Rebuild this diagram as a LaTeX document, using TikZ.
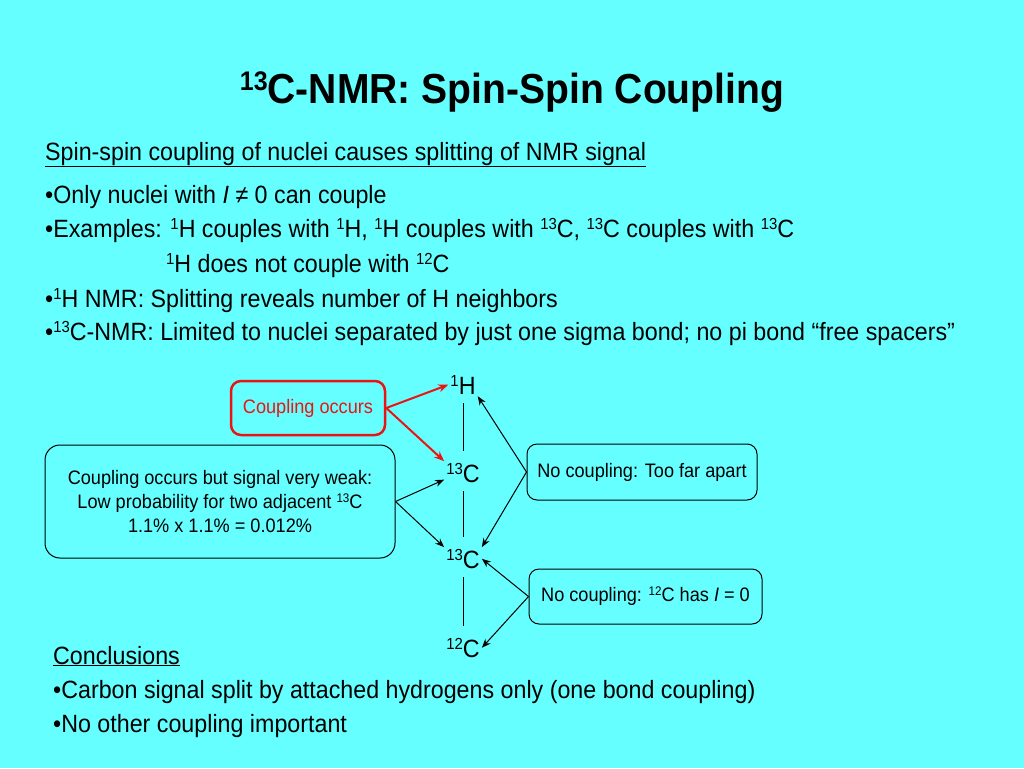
\documentclass[tikz,border=0pt]{standalone}
\usepackage{fontspec}
\setmainfont{Liberation Sans}[FakeStretch=0.93]
\usetikzlibrary{arrows.meta}
\definecolor{slidebg}{RGB}{102,255,255}
\definecolor{coupred}{RGB}{235,20,20}
\newcommand{\iso}[1]{\raisebox{.3em}{\scalebox{.64}{#1}}}
\tikzset{
  line/.style={anchor=base west, inner sep=0pt, font=\fontsize{25}{30}\selectfont},
  atom/.style={anchor=base, inner sep=2pt, font=\fontsize{25}{30}\selectfont},
  bond/.style={line width=1pt, shorten <=7pt, shorten >=10pt},
  note/.style={draw, line width=1pt, rounded corners=10pt, align=center, font=\fontsize{19.5}{24}\selectfont},
  link/.style={-{Stealth[length=9pt,width=7pt]}, line width=1pt},
  redlink/.style={-{Stealth[length=10pt,width=8pt]}, line width=2pt, coupred}
}
\begin{document}
\begin{tikzpicture}[x=1pt, y=-1pt]
\fill[slidebg] (0,0) rectangle (1024,768);
\useasboundingbox (0,0) rectangle (1024,768);
% title
\node (title) [anchor=base, inner sep=0pt, font=\fontsize{42}{50}\selectfont\bfseries] at (512,103) {\iso{13}C-NMR: Spin-Spin Coupling};
% text
\node (l0) [line] at (45,160) {\underline{Spin-spin coupling of nuclei causes splitting of NMR signal}};
\node (l1) [line] at (45,203) {•Only nuclei with \textit{I} ≠ 0 can couple};
\node (l2) [line] at (45,237) {•Examples: \iso{1}H couples with \iso{1}H, \iso{1}H couples with \iso{13}C, \iso{13}C couples with \iso{13}C};
\node (l3) [line] at (166,272) {\iso{1}H does not couple with \iso{12}C};
\node (l4) [line] at (45,307) {•\iso{1}H NMR: Splitting reveals number of H neighbors};
\node (l5) [line] at (45,340) {•\iso{13}C-NMR: Limited to nuclei separated by just one sigma bond; no pi bond “free spacers”};
% chain
\node (h1) [atom] at (463,394) {\iso{1}H};
\node (c1) [atom] at (463,482) {\iso{13}C};
\node (c2) [atom] at (463,568) {\iso{13}C};
\node (c3) [atom] at (463,657) {\iso{12}C};
\draw[bond] (h1.south) -- (c1.north);
\draw[bond] (c1.south) -- (c2.north);
\draw[bond] (c2.south) -- (c3.north);
% notes
\node (coup) [note, draw=coupred, text=coupred, line width=2.5pt, minimum width=154pt, minimum height=54pt] at (308,408) {Coupling occurs};
\node (weak) [note, rounded corners=15pt, minimum width=350pt, minimum height=113pt] at (220,501.5) {Coupling occurs but signal very weak:\\Low probability for two adjacent \iso{13}C\\1.1\% x 1.1\% = 0.012\%};
\node (far) [note, minimum width=230pt, minimum height=56pt] at (642,472) {No coupling: Too far apart};
\node (zero) [note, minimum width=233pt, minimum height=55pt] at (645.5,596.5) {No coupling: \iso{12}C has \textit{I} = 0};
\draw[redlink] (coup.east) -- (h1.west);
\draw[redlink] (coup.east) -- (c1.north west);
\draw[link] (weak.east) -- (c1.200);
\draw[link] (weak.east) -- (c2.north west);
\draw[link] (far.west) -- (h1.south east);
\draw[link] (far.west) -- (c2.north east);
\draw[link] (zero.west) -- (c2.east);
\draw[link] (zero.west) -- (c3.east);
% conclusions
\node (k0) [line] at (53,664) {\underline{Conclusions}};
\node (k1) [line] at (53,698) {•Carbon signal split by attached hydrogens only (one bond coupling)};
\node (k2) [line] at (53,732) {•No other coupling important};
\end{tikzpicture}
\end{document}
